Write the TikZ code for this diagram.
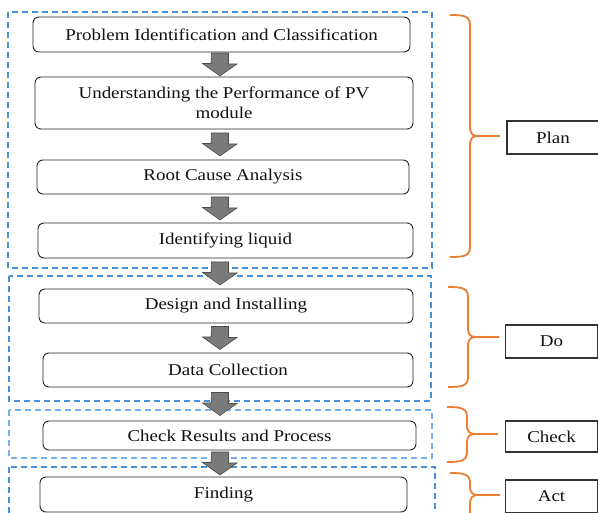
\documentclass[tikz,border=0pt]{standalone}
\usepackage{fontspec}
\setmainfont[FakeStretch=1.15]{Liberation Serif}
\usetikzlibrary{calc}
\definecolor{frameblue}{RGB}{70,145,220}
\definecolor{framelight}{RGB}{120,175,232}
\definecolor{braceorange}{HTML}{ED7D31}
\definecolor{arrowgray}{HTML}{7A7A7A}
\definecolor{arrowedge}{HTML}{4D4D4D}
\definecolor{txt}{HTML}{111111}
\tikzset{
  stepbox/.style={draw=black!85, line width=0.9pt, rounded corners=6pt, fill=white,
    text=txt, align=center, inner sep=0pt,
    font=\fontsize{16.5}{20}\selectfont},
  labelbox/.style={draw=black!80, line width=1.1pt, fill=white, text=txt,
    inner sep=0pt, minimum width=92pt, minimum height=33pt,
    font=\fontsize{16.5}{20}\selectfont},
  frame/.style={line width=1.05pt, dash pattern=on 6pt off 4pt},
  bracepath/.style={draw=braceorange, line width=1.8pt},
  barrow/.style={fill=arrowgray, draw=arrowedge, line width=0.6pt,
    to path={let \p1=(\tikztostart), \p2=(\tikztotarget), \n1={0.5*(\y1+\y2)} in
      (220pt,{\n1*1pt+11.5pt}) ++(-8.5pt,0) -- ++(17pt,0) -- ++(0,-11pt) -- ++(8.5pt,0)
      -- (220pt,{\n1*1pt-11.5pt}) -- ++(-17.5pt,12.5pt) -- ++(8.5pt,0) -- cycle}},
}
\newcommand{\orangebrace}[5]{% xl, top, mid, bottom, tip-x
  \draw[bracepath] (#1,#2) .. controls (#1+14,#2) and (#1+20,#2+1) .. (#1+20,#2+10)
    -- (#1+20,#3-9) .. controls (#1+20,#3-2) and (#1+23,#3) .. (#1+28,#3) -- (#5,#3);
  \draw[bracepath] (#1+28,#3) .. controls (#1+23,#3) and (#1+20,#3+2) .. (#1+20,#3+9)
    -- (#1+20,#4-10) .. controls (#1+20,#4-1) and (#1+14,#4) .. (#1,#4);
}
\begin{document}
\begin{tikzpicture}[x=1pt,y=-1pt]
\useasboundingbox (0,0) rectangle (598,513);
\clip (0,0) rectangle (598,513);
\fill[white] (0,0) rectangle (598,513);

% dashed frames
\coordinate (fplanA) at (8,12);  \coordinate (fplanB) at (432,268);
\coordinate (fdoA) at (9,276);   \coordinate (fdoB) at (431,401);
\coordinate (fcheckA) at (9,410); \coordinate (fcheckB) at (432,458);
\coordinate (factA) at (9,467);  \coordinate (factB) at (435,530);
\draw[frame, color=frameblue] (fplanA) rectangle (fplanB);
\draw[frame, color=frameblue] (fdoA) rectangle (fdoB);
\draw[frame, color=framelight] (fcheckA) rectangle (fcheckB);
\draw[frame, color=frameblue] (factA) rectangle (factB);

% step boxes
\node[stepbox, minimum width=377pt, minimum height=35pt] (b1) at (221.5,34.5) {Problem Identification and Classification};
\node[stepbox, minimum width=378pt, minimum height=52pt] (b2) at (224,103) {Understanding the Performance of PV\\module};
\node[stepbox, minimum width=372pt, minimum height=34pt] (b3) at (223,177) {Root Cause Analysis};
\node[stepbox, minimum width=375pt, minimum height=35pt] (b4) at (225.5,240.5) {Identifying liquid};
\node[stepbox, minimum width=374pt, minimum height=34pt] (b5) at (226,306) {Design and Installing};
\node[stepbox, minimum width=370pt, minimum height=34pt] (b6) at (228,370) {Data Collection};
\node[stepbox, minimum width=373pt, minimum height=29pt] (b7) at (229.5,435.5) {Check Results and Process};
\node[stepbox, minimum width=367pt, minimum height=35pt] (b8) at (223.5,494.5) {Finding};

% block arrows
\path[barrow] (b1.south) to (b2.north);
\path[barrow] (b2.south) to (b3.north);
\path[barrow] (b3.south) to (b4.north);
\path[barrow] (b4.south) to (b5.north);
\path[barrow] (b5.south) to (b6.north);
\path[barrow] (b6.south) to (b7.north);
\path[barrow] (b7.south) to (b8.north);

% labels
\node[labelbox] (lplan) at (553,137.5) {Plan};
\node[labelbox] (ldo) at (551.5,341.5) {Do};
\node[labelbox, minimum height=31pt] (lcheck) at (551.5,436.5) {Check};
\node[labelbox] (lact) at (551.5,496.5) {Act};

% braces
\orangebrace{450}{15}{136}{257}{500}
\orangebrace{448}{287}{337}{387}{499}
\orangebrace{447}{407}{434}{462}{498}
\orangebrace{450}{473}{495}{530}{500}
\end{tikzpicture}
\end{document}
